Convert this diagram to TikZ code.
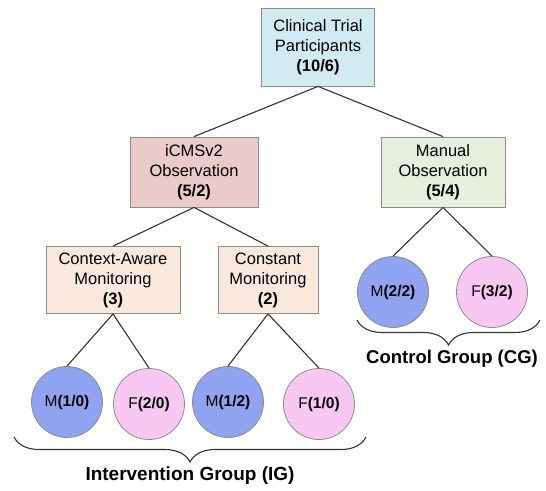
\documentclass[tikz,border=0pt]{standalone}
\usepackage{fontspec}
\setmainfont{Liberation Sans}
\usetikzlibrary{decorations.pathreplacing}

\definecolor{edgegray}{HTML}{8C8C8C}
\definecolor{linkgray}{HTML}{333333}
\definecolor{topblue}{HTML}{D2EAF2}
\definecolor{icmsred}{HTML}{EBCACA}
\definecolor{manualgreen}{HTML}{E6EEDC}
\definecolor{monpeach}{HTML}{FBE8DD}
\definecolor{maleblue}{HTML}{8FA3F0}
\definecolor{femalepink}{HTML}{F8C8F2}

\begin{document}
\begin{tikzpicture}[x=1pt,y=-1pt,
	box/.style={draw=edgegray, line width=0.8pt, align=center, inner sep=0pt, font=\fontsize{16.5}{20}\selectfont},
	circ/.style={draw=edgegray, line width=0.8pt, circle, minimum size=71pt, inner sep=0pt, font=\fontsize{15.5}{18}\selectfont},
	link/.style={draw=linkgray, line width=1.1pt},
	brc/.style={draw=linkgray, line width=1.1pt, decorate, decoration={brace, mirror, amplitude=25pt}}]

	\useasboundingbox (0,0) rectangle (546,490);

	% Boxes
	\node[box, fill=topblue, minimum width=113pt, minimum height=78pt] (trial) at (318,47) {Clinical Trial\\Participants\\\textbf{(10/6)}};
	\node[box, fill=icmsred, minimum width=128pt, minimum height=70pt] (icms) at (194,172) {iCMSv2\\Observation\\\textbf{(5/2)}};
	\node[box, fill=manualgreen, minimum width=124pt, minimum height=70pt] (manual) at (443,172) {Manual\\Observation\\\textbf{(5/4)}};
	\node[box, fill=monpeach, minimum width=134pt, minimum height=67pt] (aware) at (113,280) {Context-Aware\\Monitoring\\\textbf{(3)}};
	\node[box, fill=monpeach, minimum width=100pt, minimum height=67pt] (const) at (268,280) {Constant\\Monitoring\\\textbf{(2)}};

	% Circles
	\node[circ, fill=maleblue] (mcg) at (393,292) {M\textbf{(2/2)}};
	\node[circ, fill=femalepink] (fcg) at (492,292) {F\textbf{(3/2)}};
	\node[circ, fill=maleblue] (maw) at (67,402) {M\textbf{(1/0)}};
	\node[circ, fill=femalepink] (faw) at (149,404) {F\textbf{(2/0)}};
	\node[circ, fill=maleblue] (mco) at (228,402) {M\textbf{(1/2)}};
	\node[circ, fill=femalepink] (fco) at (319,404) {F\textbf{(1/0)}};

	% Links
	\draw[link] (trial.south) -- (icms.north);
	\draw[link] (trial.south) -- (manual.north);
	\draw[link] (icms.south) -- (aware.north);
	\draw[link] (icms.south) -- (const.north);
	\draw[link] (manual.south) -- (mcg.north);
	\draw[link] (manual.south) -- (fcg.north);
	\draw[link] (aware.south) -- (maw.north);
	\draw[link] (aware.south) -- (faw.north);
	\draw[link] (const.south) -- (mco.north);
	\draw[link] (const.south) -- (fco.north);

	% Groups
	\coordinate (cgl) at (357,320);
	\coordinate (cgr) at (540,320);
	\coordinate (igl) at (14,437);
	\coordinate (igr) at (366,437);
	\draw[brc] (cgl) -- (cgr);
	\draw[brc] (igl) -- (igr);
	\node[font=\fontsize{18.5}{20}\selectfont\bfseries] (cglabel) at (452,359) {Control Group (CG)};
	\node[font=\fontsize{19}{20}\selectfont\bfseries] (iglabel) at (190,476) {Intervention Group (IG)};

\end{tikzpicture}
\end{document}
